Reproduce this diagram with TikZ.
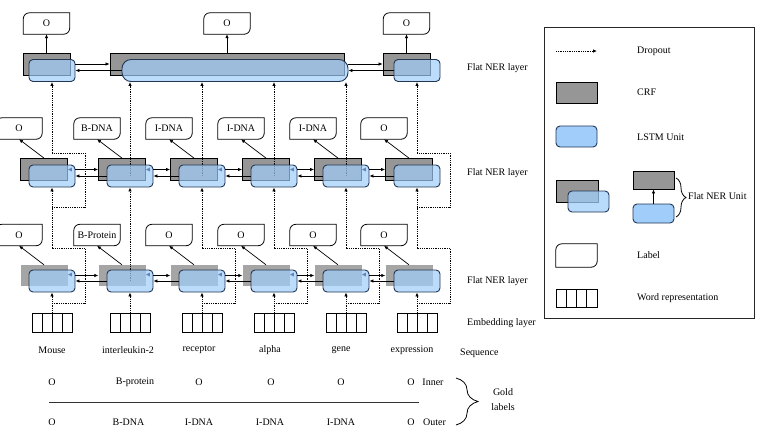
\documentclass[tikz,border=0pt]{standalone}
\usepackage{fontspec}
\setmainfont{Liberation Serif}
\usetikzlibrary{arrows.meta,decorations.pathreplacing,calc}
\definecolor{crfgray}{RGB}{150,150,150}
\definecolor{crflight}{RGB}{165,165,165}
\definecolor{lstmfill}{RGB}{160,205,250}
\definecolor{lstmdraw}{RGB}{35,55,85}
\definecolor{tipblue}{RGB}{95,135,190}
\pgfdeclarelayer{back}
\pgfdeclarelayer{mid}
\pgfsetlayers{back,mid,main}
\newcommand\lblshape[1]{%
  \draw[line width=0.8pt] (#1.south west) -- ([yshift=-6pt]#1.north west)
    arc[start angle=180,end angle=90,radius=6pt] -- (#1.north east)
    -- ([yshift=6pt]#1.south east) arc[start angle=0,end angle=-90,radius=6pt] -- cycle;}
\begin{document}
\begin{tikzpicture}[x=1pt,y=-1pt,font=\fontsize{10}{12}\selectfont,
 crf/.style={rectangle,fill=crfgray,draw=black,line width=0.8pt,minimum width=47pt,minimum height=22pt,inner sep=0pt},
 crfsoft/.style={rectangle,fill=crflight,minimum width=47pt,minimum height=21pt,inner sep=0pt},
 lstm/.style={rectangle,rounded corners=4pt,fill=lstmfill,fill opacity=0.7,draw=lstmdraw,line width=0.9pt,minimum width=46pt,minimum height=22pt,inner sep=0pt},
 lbl/.style={rectangle,minimum width=46pt,minimum height=21pt,inner sep=0pt},
 emb/.style={rectangle,draw=black,line width=0.9pt,minimum width=40pt,minimum height=19pt,inner sep=0pt,
   path picture={\foreach \f in {0.25,0.5,0.75}{\draw[line width=0.9pt] ($(path picture bounding box.north west)!\f!(path picture bounding box.north east)$) -- ($(path picture bounding box.south west)!\f!(path picture bounding box.south east)$);}}},
 drop/.style={densely dotted,line width=0.8pt,-{Latex[length=4pt,width=3.5pt]}},
 dropline/.style={densely dotted,line width=0.8pt},
 link/.style={line width=0.7pt,-{Latex[length=4pt,width=3.5pt]}},
 txt/.style={anchor=west,inner sep=0pt},
 ctxt/.style={inner sep=0pt},
 tri/.style={fill=tipblue}]
\useasboundingbox (0,0) rectangle (757,432);

% CRF boxes
\begin{pgfonlayer}{back}
\foreach \i/\c in {1/52,2/130,3/202,4/274,5/346,6/417}{
  \node[crfsoft] (g1\i) at (\c-8,275.5) {};
  \node[crf] (g2\i) at (\c-8,169.5) {};
}
\node[crf] (g31) at (46.5,64) {};
\node[crf,minimum width=234pt] (g3b) at (227,64) {};
\node[crf] (g36) at (406.5,64) {};
\end{pgfonlayer}

% LSTM units and embeddings
\foreach \i/\c in {1/52,2/130,3/202,4/274,5/346,6/417}{
  \node[lstm] (l1\i) at (\c,281) {};
  \node[lstm] (l2\i) at (\c,176) {};
  \node[emb] (e\i) at (\c,322.5) {};
}
\node[lstm] (l31) at (52,70.5) {};
\node[lstm,rounded corners=9pt,minimum width=226pt] (l3b) at (235,70.5) {};
\node[lstm] (l36) at (417,70.5) {};

% dropout connections
\begin{pgfonlayer}{mid}
\foreach \i in {1,...,6} \draw[drop] (e\i.north) -- (l1\i.south);
\foreach \i/\c in {1/52,3/202,4/274,5/346,6/417}{
  \coordinate (ja\i) at (\c,303);
  \coordinate (jb\i) at (\c,248);
  \draw[dropline] (ja\i) -- ++(33,0) |- (jb\i);
  \draw[drop] (jb\i) -- (l2\i.south);
}
\draw[drop] (l12.center) -- (l22.south);
\foreach \i/\c in {1/52,6/417}{
  \coordinate (ka\i) at (\c,207);
  \coordinate (kb\i) at (\c,153);
  \draw[dropline] (ka\i) -- ++(33,0) |- (kb\i);
  \draw[drop] (kb\i) -- (l3\i.south);
}
\foreach \i in {2,...,5} \draw[drop] (l2\i.center) -- (l2\i.center |- l3b.south);
\end{pgfonlayer}

% horizontal links
\foreach \r in {1,2}{
  \foreach \i [evaluate=\i as \j using int(\i+1)] in {1,...,5}{
    \draw[link] (l\r\i.east |- g\r\j.west) -- (g\r\j.west);
    \draw[link] (l\r\j.west) -- (l\r\i.east);
    \fill[tri] ([xshift=-7.5pt,yshift=-5pt]l\r\i.north east) -- ++(4pt,2pt) -- ++(0pt,-4pt) -- cycle;
  }
}
\draw[link] (l31.east |- g3b.west) -- (g3b.west);
\draw[link] (l3b.west) -- (l31.east);
\draw[link] (l3b.east |- g36.west) -- (g36.west);
\draw[link] (l36.west) -- (l3b.east);

% labels
\foreach \i/\c/\ta/\tb in {1/52/O/O,2/130/B-Protein/B-DNA,3/202/O/I-DNA,4/274/O/I-DNA,5/346/O/I-DNA,6/417/O/O}{
  \node[lbl] (t1\i) at (\c-33,235) {\ta};
  \lblshape{t1\i}
  \node[lbl] (t2\i) at (\c-33,128.5) {\tb};
  \lblshape{t2\i}
  \draw[link] (g1\i.north) -- (t1\i.south);
  \draw[link] (g2\i.north) -- (t2\i.south);
}
\node[lbl] (t31) at (46.5,23.5) {O}; \lblshape{t31}
\node[lbl] (t3b) at (227,23.5) {O}; \lblshape{t3b}
\node[lbl] (t36) at (406.5,23.5) {O}; \lblshape{t36}
\draw[link] (g31.north) -- (t31.south);
\draw[link] (g3b.north) -- (t3b.south);
\draw[link] (g36.north) -- (t36.south);

% layer names
\node[txt] (n3) at (467,68) {Flat NER layer};
\node[txt] (n2) at (467,173) {Flat NER layer};
\node[txt] (n1) at (467,281) {Flat NER layer};
\node[txt] (nemb) at (467,323) {Embedding layer};
\node[txt] (nseq) at (460,353) {Sequence};

% words
\foreach \i/\x/\w in {1/52/Mouse,2/128/interleukin-2,3/199/receptor,4/270/alpha,5/341/gene,6/412/expression}
  \node[ctxt] (w\i) at (\x,350) {\w};

% gold labels
\foreach \i/\x/\w in {1/52/O,2/135/B-protein,3/199/O,4/271/O,5/341/O,6/411/O}
  \node[ctxt] (gi\i) at (\x,382) {\w};
\foreach \i/\x/\w in {1/52/O,2/128.5/B-DNA,3/199/I-DNA,4/270/I-DNA,5/341/I-DNA,6/411/O}
  \node[ctxt] (go\i) at (\x,422) {\w};
\node[ctxt] (inner) at (433,382) {Inner};
\node[ctxt] (outer) at (434.5,422) {Outer};
\coordinate (sep1) at (49,402);
\coordinate (sep2) at (419,402);
\draw[line width=0.8pt,draw=black!80] (sep1) -- (sep2);
\coordinate (gb1) at (456,378);
\coordinate (gb2) at (456,425);
\draw[line width=0.8pt,decorate,decoration={brace,amplitude=22pt}] (gb1) -- (gb2);
\node[align=center,font=\fontsize{10}{15}\selectfont] (gold) at (503,400) {Gold\\labels};

% legend
\draw[line width=0.8pt,draw=black!85] (544,27) rectangle (754,318);
\coordinate (dl1) at (556,51);
\coordinate (dl2) at (597,51);
\draw[drop] (dl1) -- (dl2);
\node[txt] (ldrop) at (637,51) {Dropout};
\node[crf,minimum width=41pt,minimum height=21pt] (lg1) at (576.5,92.5) {};
\node[txt] (lcrf) at (637,92) {CRF};
\node[lstm,fill opacity=1,minimum width=41pt,minimum height=21pt] (lg2) at (576.5,136.5) {};
\node[txt] (llstm) at (637,137) {LSTM Unit};
\node[crf,minimum width=42pt,minimum height=22pt] (lg3) at (577,191) {};
\node[lstm,minimum width=41pt,minimum height=21pt,fill opacity=0.75] (lg4) at (588.5,201.5) {};
\node[crf,minimum width=41pt,minimum height=18pt] (lg5) at (653.5,180) {};
\node[lstm,fill opacity=1,minimum width=41pt,minimum height=19pt] (lg6) at (653.5,213.5) {};
\draw[link] (lg6.north) -- (lg5.south);
\coordinate (lb1) at (676,178);
\coordinate (lb2) at (676,217);
\draw[line width=0.8pt,decorate,decoration={brace,amplitude=10pt}] (lb1) -- (lb2);
\node[txt] (lflat) at (688,196) {Flat NER Unit};
\node[lbl,minimum width=41pt,minimum height=23pt] (lg7) at (576.5,255.5) {}; \lblshape{lg7}
\node[txt] (llab) at (637,255) {Label};
\node[emb,minimum width=41pt,minimum height=18pt] (lg8) at (576.5,298) {};
\node[txt] (lword) at (637,298) {Word representation};
\end{tikzpicture}
\end{document}
